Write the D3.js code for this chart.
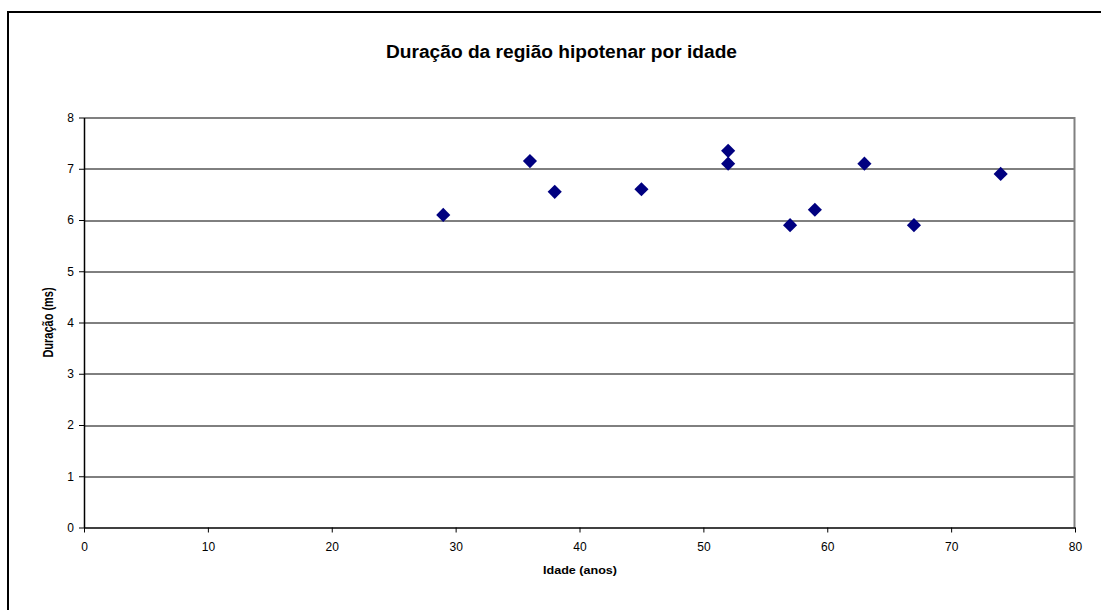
<!DOCTYPE html>
<html lang="pt">
<head>
<meta charset="UTF-8">
<title>Duração da região hipotenar por idade</title>
<script src="https://d3js.org/d3.v7.min.js"></script>
<style>
  body { margin: 0; background: #fff; }
  text { font-family: "Liberation Sans", Arial, sans-serif; }
</style>
</head>
<body>
<div id="chart"></div>
<script>
    // Data
    var idade = [29, 36, 38, 45, 52, 52, 57, 59, 63, 67, 74];
    var duracao = [6.1, 7.15, 6.55, 6.6, 7.35, 7.1, 5.9, 6.2, 7.1, 5.9, 6.9];
    var xTicks = [0, 10, 20, 30, 40, 50, 60, 70, 80];
    var yTicks = [0, 1, 2, 3, 4, 5, 6, 7, 8];

    var W = 1101, H = 610;
    var margin = {top: 117.5, right: 26, bottom: 82.5, left: 84};
    var width = W - margin.left - margin.right,
        height = H - margin.top - margin.bottom;

    var svg = d3.select("#chart").append("svg")
        .attr("width", W)
        .attr("height", H);

    // outer chart border
    svg.append("rect")
        .attr("x", 8).attr("y", 12)
        .attr("width", W + 10).attr("height", H + 10)
        .attr("fill", "none")
        .attr("stroke", "#000")
        .attr("stroke-width", 2);

    var g = svg.append("g")
        .attr("transform", "translate(" + margin.left + "," + margin.top + ")");

    var x = d3.scaleLinear().domain([0, 80]).range([0, width]);
    var y = d3.scaleLinear().domain([0, 8]).range([height, 0]);

    // horizontal gridlines
    g.selectAll(".grid")
        .data(yTicks.filter(function(d) { return d > 0 && d < 8; }))
        .enter().append("line")
        .attr("x1", 0).attr("x2", width)
        .attr("y1", function(d) { return Math.round(y(d)) + 0.5; })
        .attr("y2", function(d) { return Math.round(y(d)) + 0.5; })
        .attr("stroke", "#000")
        .attr("stroke-width", 1);

    // plot area border (top and right in grey)
    g.append("path")
        .attr("d", "M0," + 0.5 + "H" + (width - 0.5) + "V" + height)
        .attr("fill", "none")
        .attr("stroke", "#808080")
        .attr("stroke-width", 2);

    // axes
    var xAxis = g.append("g")
        .attr("transform", "translate(0," + height + ")")
        .call(d3.axisBottom(x).tickValues(xTicks).tickSize(5).tickPadding(10).tickSizeOuter(0));
    var yAxis = g.append("g")
        .call(d3.axisLeft(y).tickValues(yTicks).tickSize(5).tickPadding(5).tickSizeOuter(0));

    [xAxis, yAxis].forEach(function(a) {
        a.select(".domain").attr("stroke", "#000").attr("stroke-width", 1.5);
        a.selectAll(".tick line").attr("stroke", "#000");
        a.selectAll("text")
            .attr("fill", "#000")
            .style("font-family", "'Liberation Sans', Arial, sans-serif")
            .style("font-size", "12px");
    });

    // points (diamonds)
    var diamond = d3.symbol().type(d3.symbolSquare).size(100);
    g.selectAll(".pt")
        .data(idade)
        .enter().append("path")
        .attr("d", diamond)
        .attr("transform", function(d, i) {
            return "translate(" + x(d) + "," + y(duracao[i]) + ") rotate(45)";
        })
        .attr("fill", "#000080");

    // titles
    svg.append("text")
        .attr("x", 386).attr("y", 58)
        .attr("textLength", 351)
        .attr("lengthAdjust", "spacingAndGlyphs")
        .style("font-size", "18px")
        .style("font-weight", "bold")
        .text("Duração da região hipotenar por idade");

    svg.append("text")
        .attr("x", 543).attr("y", 574)
        .attr("textLength", 74)
        .attr("lengthAdjust", "spacingAndGlyphs")
        .style("font-size", "10.5px")
        .style("font-weight", "bold")
        .text("Idade (anos)");

    svg.append("text")
        .attr("transform", "translate(52.5," + (margin.top + height / 2) + ") rotate(-90) scale(1,1.25)")
        .attr("text-anchor", "middle")
        .style("font-size", "11px")
        .style("font-weight", "bold")
        .text("Duração (ms)");
</script>
</body>
</html>
